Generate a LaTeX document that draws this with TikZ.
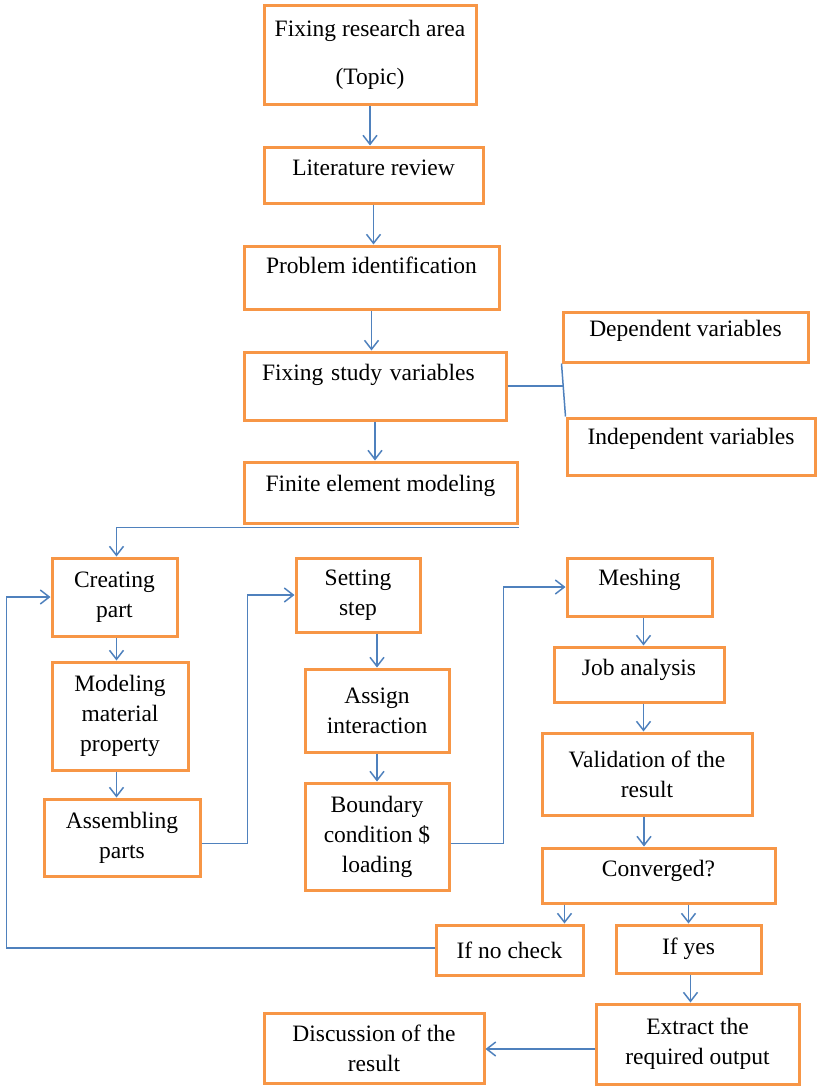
\documentclass[tikz,border=0pt]{standalone}
\usepackage{fontspec}
\setmainfont{Liberation Serif}
\usepackage{tikz}
\usetikzlibrary{arrows.meta, calc}
\definecolor{boxcolor}{RGB}{247,150,70}
\definecolor{linkcolor}{RGB}{79,129,189}

\begin{document}
\begin{tikzpicture}[
    x=1pt, y=-1pt,
    box/.style={draw=boxcolor, line width=3pt, align=center, inner sep=2pt, font=\fontsize{23.5}{30}\selectfont},
    raised/.style={text depth=#1},
    arrow/.style={-{Straight Barb[length=9pt, width=14pt]}, draw=linkcolor, line width=1.5pt},
    link/.style={draw=linkcolor, line width=1.5pt}
]
    \useasboundingbox (0,0) rectangle (817,1087);

    \node[box, minimum width=212pt, minimum height=99pt] (topic) at (370,54.5) {Fixing research area\\[18pt](Topic)};
    \node[box, raised=15pt, minimum width=219pt, minimum height=56pt] (lit) at (373.5,175) {Literature review};
    \node[box, raised=25pt, minimum width=255pt, minimum height=63pt] (prob) at (371.5,277.5) {Problem identification};
    \node[box, raised=27pt, align=left, text width=226pt, minimum width=262pt, minimum height=68pt] (fix) at (375,386) {Fixing study variables};
    \node[box, raised=17pt, minimum width=245pt, minimum height=50pt] (dep) at (685.5,337) {Dependent variables};
    \node[box, raised=21pt, minimum width=248pt, minimum height=57pt] (indep) at (691,446.5) {Independent variables};
    \node[box, raised=19pt, minimum width=273pt, minimum height=61pt] (fem) at (380.5,492.5) {Finite element modeling};

    \node[box, minimum width=125pt, minimum height=78pt] (create) at (114.5,597) {Creating\\part};
    \node[box, minimum width=136pt, minimum height=108pt] (model) at (120,716) {Modeling\\material\\property};
    \node[box, minimum width=156pt, minimum height=77pt] (assemble) at (122,837.5) {Assembling\\parts};

    \node[box, minimum width=124pt, minimum height=74pt] (setting) at (358,595) {Setting\\step};
    \node[box, minimum width=144pt, minimum height=83pt] (assign) at (377,710.5) {Assign\\interaction};
    \node[box, minimum width=144pt, minimum height=107pt] (boundary) at (377,836.5) {Boundary\\condition \$\\loading};

    \node[box, raised=19pt, minimum width=145pt, minimum height=58pt] (mesh) at (639.5,587) {Meshing};
    \node[box, raised=15pt, minimum width=170pt, minimum height=55pt] (job) at (639,674.5) {Job analysis};
    \node[box, minimum width=210pt, minimum height=82pt] (valid) at (647,774) {Validation of the\\result};
    \node[box, raised=15pt, minimum width=233pt, minimum height=55pt] (conv) at (658.5,875.5) {Converged?};
    \node[box, minimum width=147pt, minimum height=50pt] (ifno) at (509.5,950) {If no check};
    \node[box, minimum width=145pt, minimum height=48pt] (ifyes) at (688.5,949) {If yes};
    \node[box, minimum width=203pt, minimum height=80pt] (extract) at (697.5,1044) {Extract the\\required output};
    \node[box, minimum width=220pt, minimum height=70pt] (disc) at (374,1048) {Discussion of the\\result};

    \draw[arrow] (topic.south) -- (topic.south |- lit.north);
    \draw[arrow] (lit.south) -- (lit.south |- prob.north);
    \draw[arrow] (prob.south) -- (prob.south |- fix.north);
    \draw[arrow] (fix.south) -- (fix.south |- fem.north);

    \coordinate (branch) at ($(dep.south west)!0.5!(indep.north west)$);
    \draw[link] (dep.south west) -- (indep.north west);
    \draw[link] (fix.east) -- (fix.east -| branch);

    \draw[arrow] ([yshift=-3pt]fem.south east) -| ([xshift=2pt]create.north);
    \draw[arrow] ([xshift=2pt]create.south) -- ([xshift=2pt]create.south |- model.north);
    \draw[arrow] ([xshift=2pt]create.south |- model.south) -- ([xshift=2pt]create.south |- assemble.north);
    \draw[arrow] ([yshift=-6pt]assemble.east) -- ++(46,0) |- (setting.west);

    \draw[arrow] (assign.north |- setting.south) -- (assign.north);
    \draw[arrow] (assign.south) -- (boundary.north);
    \draw[arrow] ([yshift=-7pt]boundary.east) -- ++(53,0) |- (mesh.west);

    \draw[arrow] ([xshift=4pt]mesh.south) -- ([xshift=4pt]mesh.south |- job.north);
    \draw[arrow] ([xshift=4pt]mesh.south |- job.south) -- ([xshift=4pt]mesh.south |- valid.north);
    \draw[arrow] ([xshift=-3pt]valid.south) -- ([xshift=-3pt]valid.south |- conv.north);
    \draw[arrow] ([xshift=24pt]conv.south west) -- ([xshift=24pt]conv.south west |- ifno.north);
    \draw[arrow] (ifyes.north |- conv.south) -- (ifyes.north);
    \draw[arrow] ([xshift=2pt]ifyes.south) -- ([xshift=2pt]ifyes.south |- extract.north);
    \draw[arrow] ([yshift=2pt]ifno.west) -- ++(-428,0) |- (create.west);
    \draw[arrow] ([yshift=-5pt]extract.west) -- ([yshift=-5pt]extract.west -| disc.east);
\end{tikzpicture}
\end{document}
